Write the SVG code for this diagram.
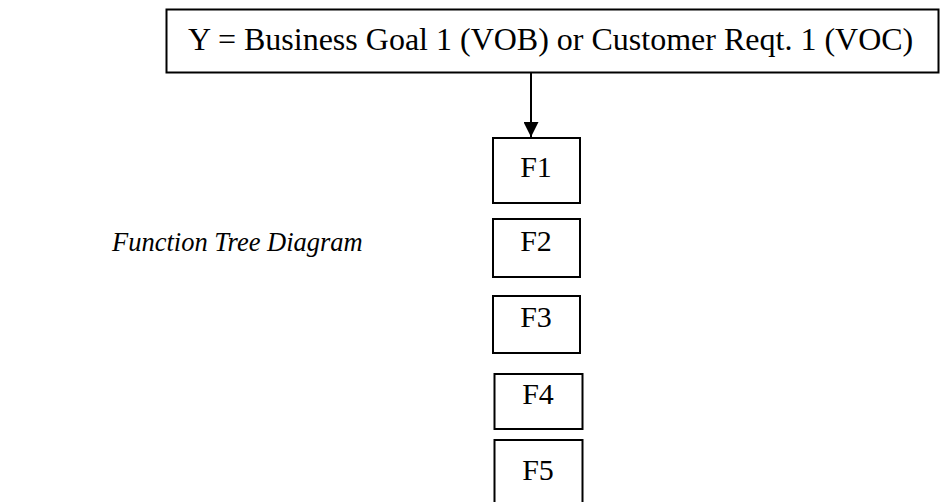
<svg xmlns="http://www.w3.org/2000/svg" width="940" height="502" viewBox="0 0 940 502">
<style>
.box{fill:#fff;stroke:#000;stroke-width:2}
.t{font-family:"Liberation Serif","Times New Roman",serif;fill:#000}
.f{font-size:30px;text-anchor:middle}
</style>
<defs>
<marker id="ah" markerWidth="16" markerHeight="15" refX="16" refY="8" orient="auto" markerUnits="userSpaceOnUse" viewBox="0 0 16 16">
<path d="M0,0 L16,8 L0,16 Z" fill="#000"/>
</marker>
</defs>
<rect width="940" height="502" fill="#fff"/>
<g id="goal">
<rect class="box" x="166.5" y="9.5" width="772" height="63"/>
<text class="t" x="188" y="50" font-size="32">Y = Business Goal 1 (VOB) or Customer Reqt. 1 (VOC)</text>
</g>
<g id="connectors">
<line x1="531" y1="73" x2="531" y2="137" stroke="#000" stroke-width="2" marker-end="url(#ah)"/>
</g>
<g id="F1">
<rect class="box" x="493" y="138" width="87" height="65"/>
<text class="t f" x="536" y="177">F1</text>
</g>
<g id="F2">
<rect class="box" x="493" y="219" width="87" height="58"/>
<text class="t f" x="536" y="251">F2</text>
</g>
<g id="F3">
<rect class="box" x="493" y="296" width="87" height="57"/>
<text class="t f" x="536" y="327">F3</text>
</g>
<g id="F4">
<rect class="box" x="494.5" y="374" width="88" height="55"/>
<text class="t f" x="538" y="404">F4</text>
</g>
<g id="F5">
<rect class="box" x="494.5" y="440" width="88" height="70"/>
<text class="t f" x="538" y="480">F5</text>
</g>
<g id="title">
<text class="t" x="112" y="251" font-size="26.5" font-style="italic">Function Tree Diagram</text>
</g>
</svg>
